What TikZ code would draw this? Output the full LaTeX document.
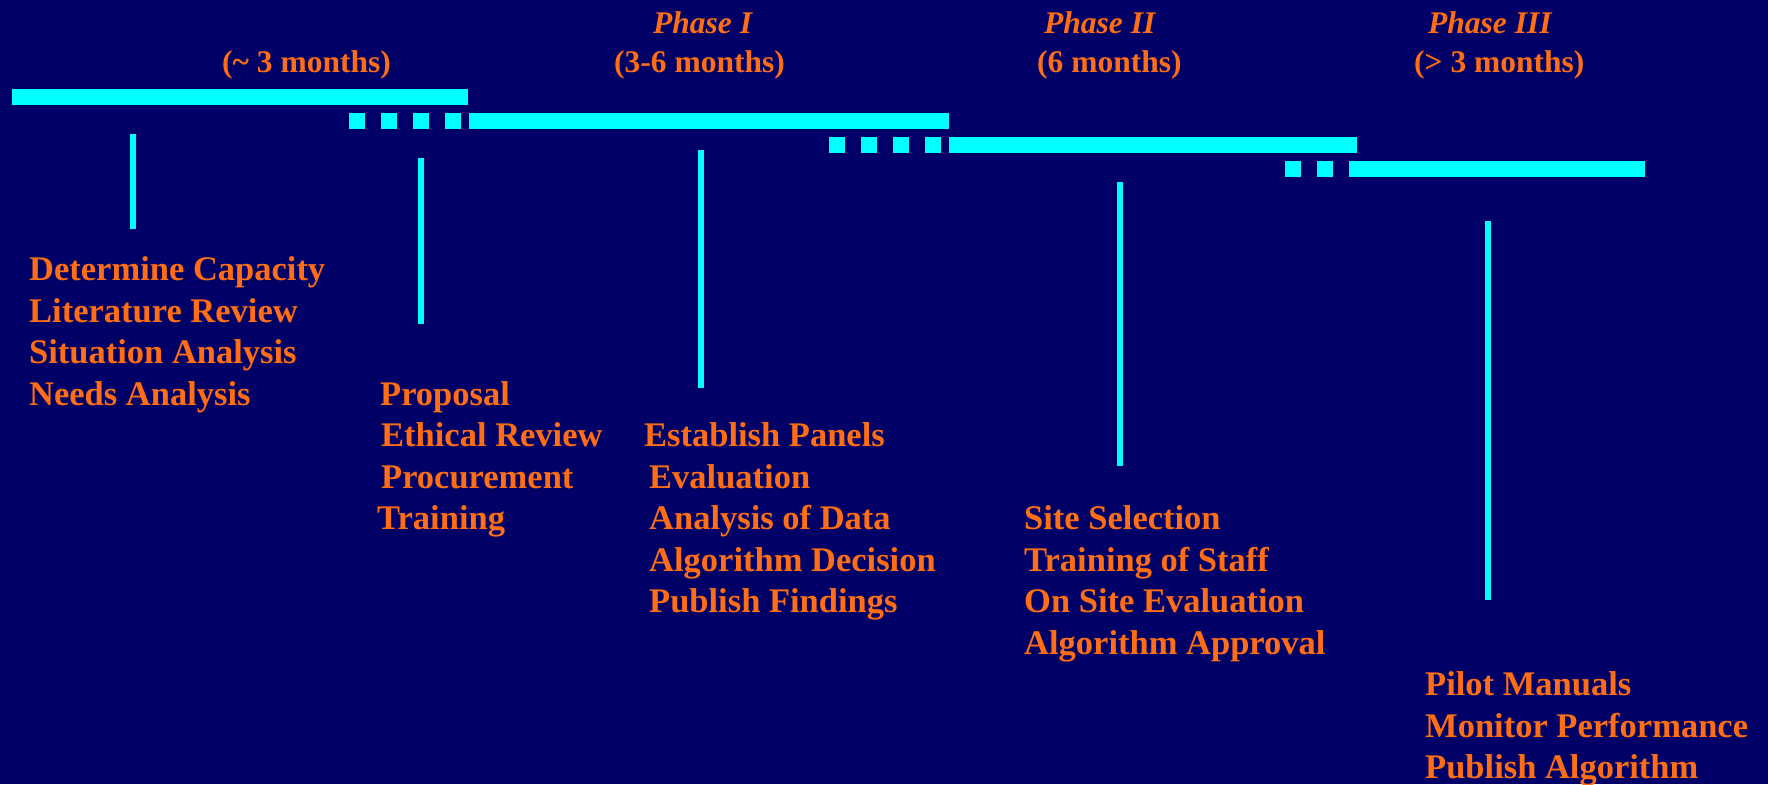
\documentclass[tikz,border=0pt]{standalone}
\usepackage{fontspec}
\setmainfont{Liberation Serif}
\usetikzlibrary{positioning}

\definecolor{navybg}{RGB}{0,0,102}
\definecolor{barcyan}{RGB}{0,255,255}
\definecolor{taskorange}{RGB}{255,110,20}

\begin{document}
\begin{tikzpicture}
  [
  x=1pt, y=-1pt,
  task/.style={anchor=base west, inner sep=0pt, text=taskorange,
    font=\fontsize{34.5}{41.5}\selectfont\bfseries},
  span/.style={task, font=\fontsize{31.5}{38}\selectfont\bfseries},
  phase/.style={task, font=\fontsize{31.5}{38}\selectfont\bfseries\itshape},
  bar/.style={fill=barcyan},
  tick/.style={draw=barcyan, line width=6pt}
  ]

  \useasboundingbox (0,0) rectangle (1768,784);
  \fill[navybg] (0,0) rectangle (1768,784);

  % headings
  \node[span] (prepd) at (222,73) {(\textasciitilde\ 3 months)};
  \node[phase] (ph1) at (653,34) {Phase I};
  \node[span] (ph1d) at (614,73) {(3-6 months)};
  \node[phase] (ph2) at (1044,34) {Phase II};
  \node[span] (ph2d) at (1037,73) {(6 months)};
  \node[phase] (ph3) at (1428,34) {Phase III};
  \node[span] (ph3d) at (1414,73) {(> 3 months)};

  % bars
  \fill[bar] (12,89) rectangle (468,105);

  \foreach \x in {349,381,413,445} {
    \fill[bar] (\x,113) rectangle ++(16,16);
  }
  \fill[bar] (469,113) rectangle (949,129);

  \foreach \x in {829,861,893,925} {
    \fill[bar] (\x,137) rectangle ++(16,16);
  }
  \fill[bar] (949,137) rectangle (1357,153);

  \foreach \x in {1285,1317} {
    \fill[bar] (\x,161) rectangle ++(16,16);
  }
  \fill[bar] (1349,161) rectangle (1645,177);

  % ticks
  \draw[tick] (133,134) -- (133,229);
  \draw[tick] (421,158) -- (421,324);
  \draw[tick] (701,150) -- (701,388);
  \draw[tick] (1120,182) -- (1120,466);
  \draw[tick] (1488,221) -- (1488,600);

  % tasks
  \foreach \dx/\txt [count=\i] in {0/Determine Capacity, 0/Literature Review,
    0/Situation Analysis, 0/Needs Analysis} {
    \node[task] (prep\i) at ({29+\dx},{239+41.5*\i}) {\txt};
  }

  \foreach \dx/\txt [count=\i] in {-1/Proposal, 0/Ethical Review,
    0/Procurement, -4/Training} {
    \node[task] (pre\i) at ({381+\dx},{363.5+41.5*\i}) {\txt};
  }

  \foreach \dx/\txt [count=\i] in {-5/Establish Panels, 0/Evaluation,
    0/Analysis of Data, 0/Algorithm Decision, 0/Publish Findings} {
    \node[task] (one\i) at ({649+\dx},{405+41.5*\i}) {\txt};
  }

  \foreach \txt [count=\i] in {Site Selection, Training of Staff,
    On Site Evaluation, Algorithm Approval} {
    \node[task] (two\i) at (1024,{488+41.5*\i}) {\txt};
  }

  \foreach \txt [count=\i] in {Pilot Manuals, Monitor Performance,
    Publish Algorithm} {
    \node[task] (three\i) at (1425,{654+41.5*\i}) {\txt};
  }
\end{tikzpicture}
\end{document}
